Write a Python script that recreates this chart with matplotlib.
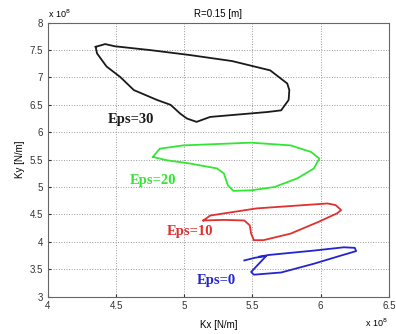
import matplotlib.pyplot as plt

# stiffness values in units of 1e8 N/m
eps30_kx = [4.35, 4.42, 4.49, 4.75, 5.04, 5.35, 5.63, 5.755, 5.77, 5.765, 5.71, 5.61, 5.19,
            5.09, 5.02, 4.97, 4.90, 4.80, 4.63, 4.53, 4.43, 4.36, 4.35]
eps30_ky = [7.56, 7.61, 7.57, 7.50, 7.41, 7.30, 7.13, 6.89, 6.77, 6.59, 6.40, 6.37, 6.28,
            6.19, 6.25, 6.34, 6.50, 6.59, 6.77, 7.01, 7.20, 7.44, 7.56]

eps20_kx = [4.77, 4.82, 4.99, 5.49, 5.78, 5.93, 5.99, 5.95, 5.83, 5.66, 5.49, 5.36, 5.32,
            5.29, 5.24, 5.04, 4.87, 4.77]
eps20_ky = [5.55, 5.70, 5.76, 5.81, 5.76, 5.64, 5.52, 5.34, 5.16, 5.00, 4.94, 4.93, 5.03,
            5.25, 5.34, 5.43, 5.49, 5.55]

eps10_kx = [5.14, 5.19, 5.53, 6.05, 6.11, 6.15, 6.12, 5.98, 5.78, 5.58, 5.51, 5.49, 5.48,
            5.44, 5.29, 5.14]
eps10_ky = [4.39, 4.48, 4.61, 4.70, 4.67, 4.58, 4.52, 4.36, 4.15, 4.03, 4.03, 4.15, 4.30,
            4.39, 4.40, 4.39]

eps0_kx = [5.44, 5.52, 5.60, 5.49, 5.51, 5.71, 5.95, 6.15, 6.26, 6.25, 6.17, 5.95, 5.62, 5.55]
eps0_ky = [3.66, 3.71, 3.74, 3.45, 3.40, 3.44, 3.60, 3.75, 3.83, 3.89, 3.90, 3.84, 3.76, 3.73]

series = [
    (eps30_kx, eps30_ky, "#1a1a1a", "Eps=30", (4.44, 6.23)),
    (eps20_kx, eps20_ky, "#33e633", "Eps=20", (4.60, 5.12)),
    (eps10_kx, eps10_ky, "#e03030", "Eps=10", (4.87, 4.18)),
    (eps0_kx, eps0_ky, "#2424d0", "Eps=0", (5.09, 3.29)),
]

plt.rcParams["font.family"] = ["Liberation Sans", "DejaVu Sans"]
fig = plt.figure(figsize=(3.96, 3.34), dpi=100)
ax = fig.add_axes([0.121, 0.112, 0.861, 0.82])

for kx, ky, color, label, pos in series:
    ax.plot(kx, ky, color=color, linewidth=1.3)
    ax.text(pos[0], pos[1], label, color=color, fontsize=10.5, fontweight="bold",
            family="Liberation Serif", va="center", ha="left")

ax.set_xlim(4, 6.5)
ax.set_ylim(3, 8)
ax.set_xticks([4, 4.5, 5, 5.5, 6, 6.5])
ax.set_xticklabels(["4", "4.5", "5", "5.5", "6", "6.5"])
ax.set_yticks([3, 3.5, 4, 4.5, 5, 5.5, 6, 6.5, 7, 7.5, 8])
ax.set_yticklabels(["3", "3.5", "4", "4.5", "5", "5.5", "6", "6.5", "7", "7.5", "8"])
ax.tick_params(direction="in", labelsize=7, length=2, colors="#333333")
ax.grid(True, linestyle=":", color="#999999", linewidth=0.7)
for sp in ax.spines.values():
    sp.set_color("#666666")
    sp.set_linewidth(0.8)

ax.set_title("R=0.15 [m]", fontsize=7, pad=4)
ax.set_xlabel("Kx [N/m]", fontsize=7, labelpad=6)
ax.set_ylabel("Ky [N/m]", fontsize=7, labelpad=3)
ax.text(0.0, 1.01, r"x 10$^8$", transform=ax.transAxes, fontsize=6.5, va="bottom", ha="left")
ax.text(0.995, -0.095, r"x 10$^8$", transform=ax.transAxes, fontsize=6.5, va="center", ha="right")

fig.savefig("out.png", dpi=100)
